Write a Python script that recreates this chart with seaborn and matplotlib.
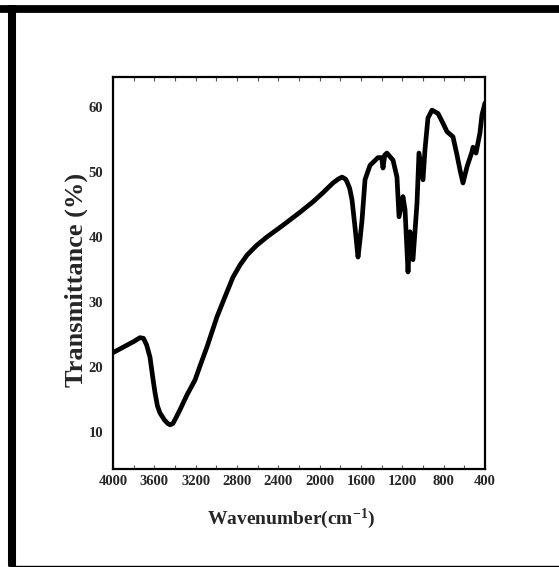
import matplotlib
matplotlib.use("Agg")
import matplotlib.pyplot as plt
from matplotlib.lines import Line2D
from matplotlib.ticker import MultipleLocator, FixedLocator
import seaborn as sns
import pandas as pd

wavenumber = [4000, 3800, 3739, 3705, 3675, 3642, 3610, 3593, 3570, 3545, 3500, 3470, 3448,
              3420, 3390, 3352, 3284, 3206, 3150,
              3090, 2994, 2916, 2839, 2770, 2703, 2610, 2510, 2355, 2190, 2065, 1968, 1871,
              1820, 1784, 1750, 1736, 1710, 1687, 1658, 1629, 1610, 1590, 1561, 1513, 1436, 1400, 1387,
              1370, 1349, 1290, 1252, 1232, 1194, 1174, 1145, 1126, 1097, 1058, 1039,
              1000, 981, 952, 913, 855, 807, 768, 710, 671, 642, 613, 574, 526,
              516, 487, 449, 429, 400]
transmittance = [22.2, 23.9, 24.5, 24.4, 23.4, 21.5, 17.8, 16.0, 14.0, 12.9, 11.8, 11.3, 11.1,
                 11.3, 12.2, 13.4, 15.7, 18.0, 20.5,
                 23.1, 27.7, 30.8, 33.8, 35.7, 37.2, 38.7, 40.0, 41.8, 43.8, 45.4, 46.8, 48.3,
                 48.9, 49.2, 48.9, 48.5, 47.5, 45.7, 41.5, 36.9, 39.5, 42.6, 48.8, 51.0, 52.2, 52.2, 50.6,
                 52.6, 52.9, 51.8, 49.2, 43.1, 46.2, 44.2, 34.6, 40.8, 36.5, 45.2, 52.9,
                 48.8, 53.4, 58.3, 59.5, 59.0, 57.5, 56.2, 55.4, 52.6, 50.3, 48.3, 50.8, 53.1,
                 53.8, 52.9, 56.0, 58.8, 60.6]
x_ticks = [4000, 3600, 3200, 2800, 2400, 2000, 1600, 1200, 800, 400]
y_ticks = [10, 20, 30, 40, 50, 60]

df = pd.DataFrame({"wn": wavenumber, "T": transmittance})

sns.set_theme(style="white")
plt.rcParams['font.family'] = ['Liberation Serif', 'DejaVu Serif']
plt.rcParams['font.weight'] = 'bold'
plt.rcParams['mathtext.fontset'] = 'custom'
plt.rcParams['mathtext.rm'] = 'Liberation Serif:bold'
plt.rcParams['mathtext.bf'] = 'Liberation Serif:bold'
plt.rcParams['mathtext.it'] = 'Liberation Serif:bold'

fig = plt.figure(figsize=(5.59, 5.67), dpi=100)
ax = fig.add_axes([113/559, 1 - 469/567, 372/559, 392/567])

sns.lineplot(data=df, x="wn", y="T", ax=ax, color="black", linewidth=3.4,
             sort=False, estimator=None)
for ln in ax.get_lines():
    ln.set_solid_joinstyle('round')
    ln.set_solid_capstyle('round')

ax.set_xlim(4000, 400)
ax.set_ylim(4.3, 64.6)
ax.xaxis.set_major_locator(FixedLocator(x_ticks))
ax.xaxis.set_minor_locator(MultipleLocator(200))
ax.set_xticklabels([str(t) for t in x_ticks], fontsize=10.5, fontweight='bold')
ax.set_yticks(y_ticks)
ax.set_yticklabels([str(t) for t in y_ticks], fontsize=10.5, fontweight='bold')
ax.tick_params(axis='x', which='both', direction='in', top=True, bottom=True,
               length=3, width=0.8, color='#555555', pad=4)
ax.tick_params(axis='y', which='both', left=False, right=False, pad=1)

for s in ax.spines.values():
    s.set_visible(True)
    s.set_color('black')
    s.set_linewidth(1.6)

ax.set_xlabel("Wavenumber(cm$^{-1}$)", fontsize=14, fontweight='bold')
ax.xaxis.set_label_coords(0.478, -0.095)
ax.set_ylabel("Transmittance (%)", fontsize=19, fontweight='bold')
ax.yaxis.set_label_coords(-0.066, 0.482)

# outer frame
W, H = 559, 567
fig.add_artist(Line2D([0, 1], [1 - 8.8/H, 1 - 8.8/H], transform=fig.transFigure,
                      color='black', linewidth=5.6, solid_capstyle='butt'))
fig.add_artist(Line2D([12/W, 12/W], [1 - 5/H, 1 - 566/H], transform=fig.transFigure,
                      color='black', linewidth=5.8, solid_capstyle='butt'))
fig.add_artist(Line2D([8/W, 1], [1 - 565.5/H, 1 - 565.5/H], transform=fig.transFigure,
                      color='black', linewidth=1.0, solid_capstyle='butt'))

fig.savefig("out.png", dpi=100)
